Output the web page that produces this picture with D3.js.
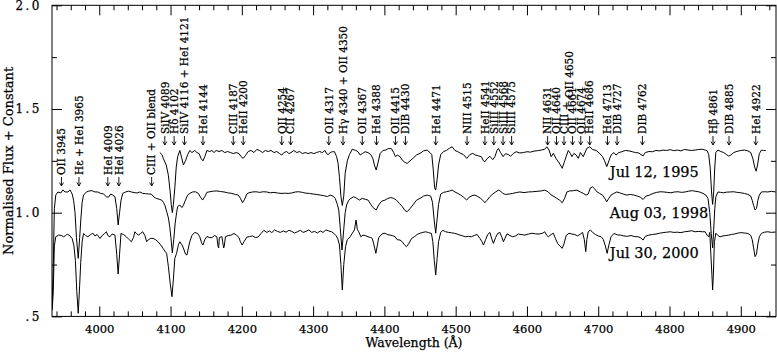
<!DOCTYPE html>
<html>
<head>
<meta charset="utf-8">
<script src="https://cdn.jsdelivr.net/npm/d3@7"></script>
<style>
  body { margin: 0; background: #fff; }
  svg { display: block; font-family: "DejaVu Serif", serif; }
  svg text { font-family: "DejaVu Serif", serif; stroke: #000; stroke-width: 0.25px; }
</style>
</head>
<body>
<div id="chart"></div>
<script>
// spectra: [wavelength (A), normalised flux + constant]
const spec1995 = [
  [4085,1.29],[4088,1.28],[4090,1.26],[4094,1.23],[4097,1.18],[4099.5,1.10],[4101,1.04],[4102.5,1.00],[4104,1.04],[4106,1.12],
  [4108,1.22],[4110,1.27],[4113,1.30],[4116,1.26],[4118,1.23],[4121,1.25],[4124,1.28],[4127,1.30],[4130,1.29],[4134,1.30],
  [4137,1.29],[4140,1.285],[4143,1.26],[4145.5,1.25],[4148,1.27],[4151,1.30],[4155,1.295],[4158,1.30],[4161,1.29],[4164,1.30],
  [4168,1.295],[4172,1.30],[4176,1.29],[4180,1.295],[4184,1.29],[4188,1.285],[4192,1.29],[4196,1.285],[4199,1.27],[4202,1.262],
  [4205,1.275],[4209,1.295],[4213,1.30],[4217,1.29],[4221,1.305],[4225,1.30],[4229,1.29],[4233,1.30],[4237,1.295],[4241,1.30],
  [4245,1.29],[4249,1.295],[4253,1.285],[4256,1.278],[4259,1.29],[4263,1.295],[4266,1.285],[4269,1.29],[4273,1.30],[4277,1.29],
  [4281,1.295],[4285,1.285],[4289,1.29],[4293,1.285],[4297,1.29],[4301,1.285],[4305,1.29],[4309,1.295],[4313,1.29],[4316.5,1.30],
  [4319,1.285],[4321,1.28],[4324,1.29],[4327,1.294],[4330,1.294],[4333,1.27],[4335,1.238],[4337,1.17],[4339,1.08],[4341,1.035],
  [4343,1.08],[4345,1.19],[4348,1.25],[4351,1.28],[4355,1.306],[4360,1.30],[4363,1.294],[4366,1.278],[4369,1.285],[4373,1.294],
  [4377,1.29],[4381,1.28],[4384,1.26],[4386,1.23],[4388.5,1.206],[4391,1.24],[4394,1.285],[4398,1.30],[4402,1.302],[4406,1.31],
  [4410,1.308],[4413,1.29],[4415.5,1.27],[4418,1.278],[4422,1.27],[4425,1.254],[4429,1.242],[4432,1.238],[4436,1.25],[4440,1.262],
  [4445,1.278],[4450,1.286],[4455,1.298],[4460,1.302],[4464,1.29],[4466.5,1.28],[4468.5,1.21],[4470.5,1.12],[4472,1.109],[4474,1.16],
  [4476,1.23],[4479,1.28],[4483,1.295],[4487,1.30],[4491,1.31],[4495,1.318],[4499,1.30],[4503,1.294],[4507,1.286],[4511,1.28],
  [4515.5,1.262],[4520,1.28],[4524,1.286],[4528,1.278],[4532,1.274],[4536,1.27],[4539,1.25],[4541,1.246],[4544,1.26],[4548,1.272],
  [4552,1.256],[4555,1.27],[4558,1.30],[4560,1.31],[4563,1.29],[4566.5,1.27],[4570,1.285],[4574,1.28],[4577,1.272],[4581,1.286],
  [4585,1.294],[4590,1.288],[4595,1.29],[4600,1.294],[4605,1.292],[4610,1.297],[4615,1.299],[4620,1.302],[4625,1.306],[4628,1.318],
  [4631,1.302],[4634,1.27],[4637,1.286],[4641,1.26],[4644,1.246],[4647,1.23],[4649.5,1.214],[4652,1.24],[4655,1.27],[4658,1.30],
  [4661,1.285],[4663,1.27],[4666,1.286],[4669,1.278],[4672,1.262],[4675,1.29],[4679,1.27],[4684,1.31],[4688,1.318],[4692,1.305],
  [4697,1.30],[4702,1.286],[4706,1.27],[4709,1.25],[4712,1.222],[4715,1.25],[4718,1.278],[4722,1.29],[4725,1.278],[4729,1.29],
  [4733,1.294],[4738,1.30],[4743,1.298],[4748,1.294],[4752,1.29],[4757,1.288],[4760,1.28],[4763,1.274],[4766,1.29],[4771,1.295],
  [4776,1.294],[4781,1.30],[4786,1.298],[4791,1.302],[4796,1.30],[4801,1.304],[4806,1.299],[4811,1.302],[4816,1.298],[4821,1.305],
  [4826,1.302],[4831,1.30],[4836,1.302],[4841,1.305],[4846,1.306],[4850,1.302],[4853,1.298],[4855,1.28],[4857,1.22],[4859,1.10],
  [4860.5,1.04],[4862,1.10],[4863.5,1.22],[4865,1.29],[4868,1.302],[4872,1.295],[4876,1.29],[4880,1.28],[4883,1.273],[4886,1.278],
  [4890,1.29],[4895,1.296],[4900,1.30],[4905,1.302],[4910,1.298],[4914,1.29],[4917,1.26],[4919.5,1.22],[4921.5,1.20],[4923.5,1.23],
  [4926,1.285],[4929,1.302],[4932,1.30],[4935,1.30]
];

const spec1998 = [
  [3934,0.56],[3935.5,0.75],[3937,1.02],[3939,1.085],[3942,1.10],[3946,1.095],[3949,1.11],[3952,1.10],[3956,1.10],[3959,1.11],
  [3962,1.09],[3964,1.06],[3966,1.00],[3968,0.88],[3970.5,0.78],[3972.5,0.88],[3974,0.96],[3976,1.05],[3978,1.085],[3982,1.10],
  [3986,1.105],[3990,1.106],[3994,1.10],[3998,1.10],[4002,1.093],[4006,1.09],[4010,1.077],[4013,1.075],[4016,1.09],[4019,1.085],
  [4022,1.077],[4024.5,1.02],[4026.5,0.941],[4028.5,1.00],[4030.5,1.06],[4033,1.093],[4037,1.10],[4041,1.104],[4045,1.10],[4049,1.097],
  [4053,1.095],[4057,1.10],[4061,1.093],[4065,1.092],[4069,1.09],[4073,1.09],[4077,1.075],[4080,1.069],[4084,1.065],[4087.5,1.061],
  [4090,1.05],[4092,1.037],[4095,1.00],[4097,0.975],[4099,0.93],[4100.5,0.88],[4102.5,0.806],[4104.5,0.87],[4106.5,0.95],[4108.5,1.00],
  [4110,1.03],[4113,1.037],[4116,1.025],[4118,1.035],[4120,1.053],[4124,1.085],[4127,1.093],[4131,1.10],[4135,1.101],[4139,1.093],
  [4142,1.075],[4145,1.061],[4148,1.077],[4151,1.098],[4155,1.101],[4160,1.104],[4165,1.105],[4170,1.102],[4175,1.10],[4180,1.096],
  [4186,1.093],[4191,1.088],[4195,1.085],[4198,1.07],[4201,1.048],[4204,1.065],[4207,1.09],[4210,1.096],[4215,1.10],[4220,1.101],
  [4225,1.098],[4230,1.101],[4235,1.10],[4240,1.096],[4245,1.098],[4250,1.095],[4255,1.093],[4260,1.094],[4265,1.093],[4270,1.095],
  [4275,1.10],[4280,1.101],[4285,1.098],[4290,1.094],[4295,1.093],[4300,1.09],[4305,1.088],[4310,1.085],[4315,1.082],[4320,1.078],
  [4324,1.085],[4328,1.08],[4331,1.069],[4334,1.04],[4336,1.013],[4338,0.93],[4340.5,0.82],[4343,0.92],[4345,1.00],[4347,1.037],
  [4350,1.06],[4353,1.069],[4357,1.077],[4361,1.07],[4365,1.061],[4369,1.069],[4373,1.065],[4377,1.061],[4381,1.04],[4384,1.025],
  [4388.5,1.013],[4392,1.037],[4396,1.055],[4401,1.061],[4405,1.069],[4409,1.073],[4413,1.069],[4417,1.06],[4421,1.045],[4425,1.03],
  [4429,1.01],[4432,1.005],[4436,1.02],[4440,1.037],[4445,1.06],[4450,1.069],[4455,1.08],[4460,1.085],[4465,1.08],[4467.5,1.05],
  [4470,0.96],[4472,0.901],[4474,0.97],[4476,1.04],[4479,1.09],[4483,1.098],[4487,1.101],[4491,1.104],[4495,1.109],[4499,1.10],
  [4503,1.093],[4507,1.085],[4511,1.075],[4515.5,1.061],[4519,1.075],[4523,1.082],[4527,1.085],[4531,1.078],[4535,1.069],[4538,1.06],
  [4541,1.048],[4544,1.06],[4548,1.077],[4552,1.09],[4556,1.10],[4560,1.109],[4563,1.104],[4566,1.093],[4570,1.088],[4575,1.09],
  [4580,1.093],[4585,1.097],[4590,1.10],[4596,1.097],[4602,1.10],[4608,1.101],[4614,1.103],[4620,1.105],[4625,1.109],[4630,1.10],
  [4634,1.085],[4638,1.078],[4642,1.069],[4646,1.06],[4649.5,1.048],[4653,1.07],[4656,1.10],[4660,1.105],[4665,1.106],[4670,1.109],
  [4675,1.10],[4679,1.093],[4683,1.085],[4686,1.09],[4689,1.12],[4692,1.125],[4695,1.115],[4698,1.101],[4702,1.093],[4706,1.085],
  [4709,1.07],[4712,1.053],[4715,1.07],[4718,1.085],[4722,1.093],[4726,1.10],[4730,1.096],[4735,1.09],[4740,1.085],[4745,1.088],
  [4750,1.085],[4755,1.08],[4759,1.075],[4763,1.064],[4767,1.08],[4772,1.085],[4777,1.093],[4782,1.098],[4787,1.101],[4792,1.10],
  [4797,1.098],[4802,1.096],[4807,1.10],[4812,1.101],[4817,1.098],[4822,1.10],[4827,1.104],[4832,1.106],[4837,1.103],[4842,1.10],
  [4847,1.093],[4851,1.085],[4854,1.069],[4856.5,1.00],[4858.5,0.90],[4860.5,0.83],[4862,0.92],[4863.5,1.02],[4865,1.077],[4868,1.10],
  [4872,1.098],[4876,1.096],[4880,1.099],[4885,1.10],[4890,1.101],[4895,1.098],[4900,1.096],[4905,1.093],[4910,1.088],[4914,1.08],
  [4916,1.06],[4918,1.035],[4920,1.013],[4922,1.02],[4924,1.06],[4926,1.085],[4929,1.10],[4933,1.101],[4938,1.10],[4943,1.103],
  [4949,1.10]
];

const spec2000 = [
  [3934,0.53],[3935.5,0.62],[3937,0.84],[3939,0.884],[3943,0.892],[3947,0.89],[3950,0.884],[3953,0.89],[3955,0.897],[3959,0.888],
  [3962,0.875],[3964.5,0.84],[3966.5,0.77],[3968.5,0.62],[3970.5,0.515],[3972.5,0.65],[3974,0.76],[3976,0.86],[3978,0.90],[3981,0.89],
  [3984,0.884],[3988,0.895],[3991,0.901],[3994,0.888],[3997,0.895],[4001,0.876],[4004,0.89],[4007,0.898],[4010,0.908],[4012,0.89],
  [4015,0.884],[4018,0.897],[4022,0.892],[4024.5,0.80],[4026.5,0.704],[4028.5,0.80],[4030.5,0.90],[4034,0.895],[4038,0.884],[4042,0.87],
  [4045,0.86],[4048,0.88],[4050,0.908],[4052,0.90],[4055,0.892],[4058,0.90],[4061,0.908],[4064,0.89],[4066.5,0.86],[4069,0.87],
  [4072,0.876],[4075.5,0.876],[4079,0.87],[4082.5,0.86],[4086,0.845],[4089.5,0.828],[4092,0.815],[4094.5,0.804],[4097,0.74],[4099.5,0.66],
  [4102,0.595],[4104,0.68],[4106,0.78],[4108.5,0.804],[4111,0.845],[4113,0.86],[4116,0.845],[4118,0.83],[4121,0.80],[4123,0.796],
  [4125,0.83],[4127,0.86],[4130,0.89],[4134,0.905],[4138,0.90],[4141,0.884],[4143.5,0.855],[4145.5,0.844],[4148,0.87],[4151,0.885],
  [4155,0.88],[4158,0.88],[4162,0.89],[4165,0.884],[4166.5,0.84],[4167.5,0.83],[4168.5,0.88],[4172,0.885],[4174.5,0.83],[4175.5,0.84],
  [4177,0.884],[4181,0.89],[4185,0.892],[4189,0.90],[4193,0.89],[4196,0.88],[4198,0.86],[4200.5,0.844],[4203,0.86],[4207,0.882],
  [4211,0.885],[4215,0.888],[4219,0.88],[4223,0.883],[4227,0.90],[4231,0.915],[4235,0.905],[4239,0.912],[4242,0.904],[4246,0.917],
  [4250,0.91],[4254,0.905],[4258,0.912],[4262,0.906],[4266,0.915],[4270,0.91],[4274,0.902],[4278,0.908],[4282,0.915],[4286,0.905],
  [4290,0.91],[4294,0.917],[4298,0.905],[4302,0.91],[4306,0.902],[4310,0.912],[4314,0.905],[4318,0.917],[4322,0.912],[4326,0.908],
  [4329,0.901],[4332,0.89],[4334.5,0.876],[4337,0.844],[4339,0.75],[4341,0.627],[4343,0.75],[4345.5,0.836],[4348,0.87],[4352,0.884],
  [4355,0.901],[4358,0.917],[4360.3,0.965],[4362,0.92],[4364,0.908],[4367,0.884],[4370,0.892],[4373,0.89],[4377,0.884],[4381,0.88],
  [4383,0.876],[4385,0.85],[4388,0.804],[4390,0.84],[4392,0.88],[4395,0.892],[4398,0.90],[4401,0.901],[4404,0.895],[4408,0.892],
  [4411,0.89],[4415,0.884],[4418,0.87],[4422,0.868],[4425,0.86],[4428,0.846],[4431,0.836],[4434,0.85],[4438,0.875],[4442,0.884],
  [4446,0.895],[4450,0.901],[4454,0.905],[4458,0.908],[4462,0.904],[4466,0.90],[4468,0.86],[4470,0.77],[4472,0.70],[4474,0.78],
  [4476,0.86],[4479,0.905],[4482,0.915],[4486,0.908],[4490,0.905],[4494,0.903],[4498,0.901],[4502,0.897],[4506,0.892],[4510,0.888],
  [4514,0.884],[4518,0.886],[4522,0.884],[4526,0.89],[4530,0.895],[4534,0.876],[4537,0.86],[4539,0.844],[4542,0.87],[4545,0.895],
  [4548,0.905],[4551,0.87],[4553,0.852],[4556,0.88],[4559,0.90],[4562,0.905],[4565,0.88],[4567,0.86],[4569,0.875],[4572,0.898],
  [4576,0.89],[4580,0.884],[4584,0.888],[4588,0.897],[4593,0.894],[4597,0.892],[4602,0.897],[4607,0.901],[4612,0.898],[4617,0.897],
  [4622,0.901],[4625,0.908],[4628,0.89],[4630,0.884],[4634,0.895],[4637,0.901],[4640,0.876],[4643,0.852],[4646,0.84],[4649.5,0.828],
  [4652,0.85],[4655,0.89],[4659,0.901],[4663,0.897],[4667,0.895],[4671,0.888],[4675,0.897],[4678,0.905],[4680.5,0.87],[4682.5,0.812],
  [4684,0.87],[4686,0.908],[4689,0.917],[4692,0.905],[4696,0.895],[4700,0.888],[4704,0.884],[4707,0.872],[4710,0.84],[4712.5,0.804],
  [4715,0.845],[4718,0.884],[4722,0.90],[4727,0.893],[4731,0.892],[4736,0.888],[4741,0.886],[4746,0.89],[4751,0.885],[4756,0.884],
  [4760,0.878],[4763,0.868],[4766,0.886],[4771,0.892],[4776,0.895],[4781,0.897],[4786,0.901],[4791,0.904],[4796,0.906],[4801,0.908],
  [4806,0.905],[4811,0.906],[4816,0.904],[4821,0.908],[4826,0.91],[4831,0.913],[4836,0.908],[4841,0.91],[4846,0.908],[4850,0.908],
  [4853,0.89],[4855,0.884],[4856.5,0.905],[4858,0.80],[4859.5,0.70],[4860.5,0.627],[4861.5,0.70],[4863,0.86],[4865,0.901],[4868,0.89],
  [4871,0.884],[4875,0.888],[4879,0.89],[4883,0.892],[4887,0.895],[4891,0.897],[4895,0.901],[4900,0.904],[4905,0.902],[4910,0.90],
  [4914,0.89],[4916,0.87],[4918,0.83],[4920,0.788],[4922,0.80],[4924,0.85],[4926,0.884],[4929,0.90],[4933,0.906],[4938,0.908],
  [4943,0.905],[4949,0.907]
];

const dates = ["Jul 12, 1995", "Aug 03, 1998", "Jul 30, 2000"];

// line identifications: [label, wavelength where the arrow sits]
const lineIds = [
  ["OII 3945", 3947], ["H\u03b5 + HeI 3965", 3971.5], ["HeI 4009", 4012], ["HeI 4026", 4027.5],
  ["CIII + OII blend", 4073.5],
  ["SiIV 4089", 4092], ["H\u03b4 4102", 4105], ["SiIV 4116 + HeI 4121", 4119.5], ["HeI 4144", 4145.5],
  ["CIII 4187", 4188], ["HeII 4200", 4202],
  ["OII 4254", 4256], ["CII 4267", 4268.5], ["OII 4317", 4322], ["H\u03b3 4340 + OII 4350", 4342],
  ["OII 4367", 4369], ["HeI 4388", 4389], ["OII 4415", 4415.5], ["DIB 4430", 4429.5], ["HeI 4471", 4472],
  ["NIII 4515", 4516], ["HeII 4541", 4541], ["SiIII 4552", 4553.5], ["SiIII 4568", 4566.5], ["SiIII 4575", 4578.5],
  ["NII 4631", 4629], ["OII 4640", 4641.5], ["CIII + OII 4650", 4652], ["OII 4661", 4664], ["OII 4674", 4675.5],
  ["HeII 4686", 4688], ["HeI 4713", 4713], ["DIB 4727", 4726.5], ["DIB 4762", 4762],
  ["H\u03b2 4861", 4861], ["DIB 4885", 4883.5], ["HeI 4922", 4921]
];

const xMajor = [4000, 4100, 4200, 4300, 4400, 4500, 4600, 4700, 4800, 4900];
const yMajor = [0.5, 1.0, 1.5, 2.0];

const width = 777, height = 352;
const FONT = "DejaVu Serif";

const svg = d3.select("#chart").append("svg")
    .attr("width", width)
    .attr("height", height);

const x = d3.scaleLinear().domain([3933.7, 4949.4]).range([52, 776]);
const y = d3.scaleLinear().domain([0.5, 2.0]).range([316.4, 5.3]);

const xMinor = d3.range(3940, 4950, 20).filter(d => d % 100 !== 0);
const yMinor = [0.75, 1.25, 1.75];

// axes, ticks pointing inward on all four sides
function styleAxis(g) {
  g.attr("font-family", FONT);
  g.select(".domain").remove();
  g.selectAll(".tick line").attr("stroke", "#000");
  g.selectAll("text").attr("fill", "#000").attr("font-family", FONT);
}

svg.append("g")
    .attr("transform", `translate(0,${y(0.5)})`)
    .call(d3.axisBottom(x).tickValues(xMajor).tickSize(-10).tickPadding(8).tickFormat(d3.format("d")))
    .call(styleAxis)
    .selectAll("text").attr("font-size", 11.5);
svg.append("g")
    .attr("transform", `translate(0,${y(0.5)})`)
    .call(d3.axisBottom(x).tickValues(xMinor).tickSize(-5).tickFormat(""))
    .call(styleAxis);
svg.append("g")
    .attr("transform", `translate(0,${y(2.0)})`)
    .call(d3.axisTop(x).tickValues(xMajor).tickSize(-10).tickFormat(""))
    .call(styleAxis);
svg.append("g")
    .attr("transform", `translate(0,${y(2.0)})`)
    .call(d3.axisTop(x).tickValues(xMinor).tickSize(-5).tickFormat(""))
    .call(styleAxis);

svg.append("g")
    .attr("transform", `translate(${x.range()[0]},0)`)
    .call(d3.axisLeft(y).tickValues(yMajor).tickSize(-10).tickPadding(10)
      .tickFormat(d => d === 0.5 ? ".5" : d.toFixed(1)))
    .call(styleAxis)
    .selectAll("text").attr("font-size", 12).attr("letter-spacing", 2.5);
svg.append("g")
    .attr("transform", `translate(${x.range()[0]},0)`)
    .call(d3.axisLeft(y).tickValues(yMinor).tickSize(-5).tickFormat(""))
    .call(styleAxis);
svg.append("g")
    .attr("transform", `translate(${x.range()[1]},0)`)
    .call(d3.axisRight(y).tickValues(yMajor).tickSize(-10).tickFormat(""))
    .call(styleAxis);
svg.append("g")
    .attr("transform", `translate(${x.range()[1]},0)`)
    .call(d3.axisRight(y).tickValues(yMinor).tickSize(-5).tickFormat(""))
    .call(styleAxis);

// frame
svg.append("rect")
    .attr("x", x.range()[0]).attr("y", y(2.0))
    .attr("width", x.range()[1] - x.range()[0])
    .attr("height", y(0.5) - y(2.0))
    .attr("fill", "none").attr("stroke", "#000").attr("stroke-width", 1);

svg.append("clipPath").attr("id", "plotclip")
  .append("rect")
    .attr("x", x.range()[0]).attr("y", y(2.0))
    .attr("width", x.range()[1] - x.range()[0])
    .attr("height", y(0.5) - y(2.0));

// spectra
const line = d3.line()
    .x(d => x(d[0]))
    .y(d => y(d[1]));

svg.append("g").attr("clip-path", "url(#plotclip)")
  .selectAll("path")
  .data([spec1995, spec1998, spec2000])
  .enter().append("path")
    .attr("d", line)
    .attr("fill", "none")
    .attr("stroke", "#000")
    .attr("stroke-width", 1)
    .attr("stroke-linejoin", "round");

// epoch labels
const dateY = [1.174, 0.973, 0.780];
svg.append("g").selectAll("text")
  .data(dates)
  .enter().append("text")
    .attr("x", x(4716.3))
    .attr("y", (d, i) => y(dateY[i]))
    .attr("font-family", FONT)
    .attr("font-size", 14.5)
    .attr("fill", "#000")
    .text(d => d);

// line identifications: arrow plus vertical text
const labelG = svg.append("g");
lineIds.forEach(function(d) {
  const px = x(d[1]);
  const tip = d[1] < 4080 ? 186 : 145;   // left ones sit above the 1998 spectrum
  labelG.append("path")
    .attr("d", `M${px},${tip - 9}L${px},${tip}M${px - 2},${tip - 3.5}L${px},${tip}L${px + 2},${tip - 3.5}`)
    .attr("fill", "none").attr("stroke", "#000").attr("stroke-width", 0.9);
  const t = labelG.append("text")
    .attr("transform", `translate(${px + 3.8},${tip - 11}) rotate(-90)`)
    .attr("font-family", FONT)
    .attr("font-size", 10.5)
    .attr("fill", "#000");
  if (d[0] === "CIII + OII 4650") {
    t.append("tspan").text("CIII");
    t.append("tspan").attr("dy", 2).text(" +");
    t.append("tspan").attr("dy", 3).text(" OII 4650");
  } else {
    t.text(d[0]);
  }
});

// axis titles
svg.append("text")
    .attr("transform", `translate(13,${(y(0.5) + y(2.0)) / 2}) rotate(-90)`)
    .attr("text-anchor", "middle")
    .attr("font-family", FONT)
    .attr("font-size", 13)
    .attr("fill", "#000")
    .text("Normalised Flux + Constant");

svg.append("text")
    .attr("x", 414)
    .attr("y", 347)
    .attr("text-anchor", "middle")
    .attr("font-family", FONT)
    .attr("font-size", 12.5)
    .attr("fill", "#000")
    .text("Wavelength (\u00c5)");
</script>
</body>
</html>
